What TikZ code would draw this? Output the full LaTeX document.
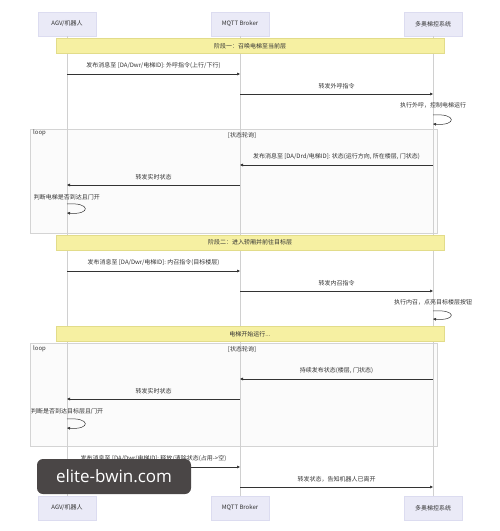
\documentclass[tikz,border=0pt]{standalone}
\usepackage{fontspec}
\usetikzlibrary{arrows.meta,positioning}
\newfontfamily\cjk{Noto Sans CJK SC}
\newfontfamily\wmfont{Open Sans}

\definecolor{actorfill}{HTML}{EAEAF7}
\definecolor{actordraw}{HTML}{DCDCF0}
\definecolor{notefill}{HTML}{F6F0A2}
\definecolor{notedraw}{HTML}{E2DC8A}
\definecolor{txt}{HTML}{333333}
\definecolor{lifegray}{HTML}{D0D0D0}
\definecolor{loopgray}{HTML}{D4D4D4}
\definecolor{wmfill}{HTML}{4A4646}

\tikzset{
  lbl/.style={font=\cjk\fontsize{6}{7}\selectfont, text=txt, inner sep=1pt},
  actor/.style={lbl, draw=actordraw, fill=actorfill, minimum width=58pt, minimum height=24pt},
  note/.style={lbl, draw=notedraw, fill=notefill, minimum width=388pt, minimum height=15pt},
  life/.style={draw=lifegray, line width=0.5pt},
  msg/.style={draw=txt, line width=0.5pt, -{Triangle[length=3pt,width=2.6pt]}},
  loopbox/.style={draw=loopgray, fill=black!1.5, line width=0.5pt},
}

\begin{document}
\begin{tikzpicture}[x=1pt,y=-1pt]
\useasboundingbox (0,0) rectangle (500,531);

% loop frames (behind everything)
\draw[loopbox] (30,129) rectangle (437,233);
\draw[loopbox] (30,343) rectangle (437,446);

% participants
\node[actor] (agv) at (67,24) {AGV/机器人};
\node[actor] (broker) at (240,24) {MQTT Broker};
\node[actor] (elev) at (433,24) {多奥梯控系统};
\node[actor] (agvb) at (67,508) {AGV/机器人};
\node[actor] (brokerb) at (240,508) {MQTT Broker};
\node[actor] (elevb) at (433,508) {多奥梯控系统};

\draw[life] (agv) -- (agvb);
\draw[life] (broker) -- (brokerb);
\draw[life] (elev) -- (elevb);

% phase 1
\node[note] (ph1) at (250,46) {阶段一：召唤电梯至当前层};

\path (agv |- 0,74) coordinate (m1a) (broker |- 0,74) coordinate (m1b);
\draw[msg] (m1a) -- node[lbl, above=4pt] {发布消息至 [DA/Dwr/电梯ID]: 外呼指令(上行/下行)} (m1b);

\path (broker |- 0,94) coordinate (m2a) (elev |- 0,94) coordinate (m2b);
\draw[msg] (m2a) -- node[lbl, above=4pt] {转发外呼指令} (m2b);

\node[lbl] (s1t) at (elev |- 0,105) {执行外呼，控制电梯运行};
\path (elev |- 0,115) coordinate (s1a) (elev |- 0,124) coordinate (s1b);
\draw[msg] (s1a) .. controls +(24,-2) and +(24,2) .. (s1b);

% first polling loop
\node[lbl, anchor=west] (lp1) at (32,133) {loop};
\node[lbl] (lp1c) at (242,135) {[状态轮询]};

\path (elev |- 0,165) coordinate (m3a) (broker |- 0,165) coordinate (m3b);
\draw[msg] (m3a) -- node[lbl, above=4pt] {发布消息至 [DA/Drd/电梯ID]: 状态(运行方向, 所在楼层, 门状态)} (m3b);

\path (broker |- 0,185) coordinate (m4a) (agv |- 0,185) coordinate (m4b);
\draw[msg] (m4a) -- node[lbl, above=4pt] {转发实时状态} (m4b);

\node[lbl] (s2t) at (agv |- 0,197) {判断电梯是否到达且门开};
\path (agv |- 0,204) coordinate (s2a) (agv |- 0,213) coordinate (s2b);
\draw[msg] (s2a) .. controls +(24,-2) and +(24,2) .. (s2b);

% phase 2
\node[note] (ph2) at (250,242.5) {阶段二：进入轿厢并前往目标层};

\path (agv |- 0,271) coordinate (m5a) (broker |- 0,271) coordinate (m5b);
\draw[msg] (m5a) -- node[lbl, above=4pt] {发布消息至 [DA/Dwr/电梯ID]: 内召指令(目标楼层)} (m5b);

\path (broker |- 0,291) coordinate (m6a) (elev |- 0,291) coordinate (m6b);
\draw[msg] (m6a) -- node[lbl, above=4pt] {转发内召指令} (m6b);

\node[lbl] (s3t) at (elev |- 0,302) {执行内召，点亮目标楼层按钮};
\path (elev |- 0,311) coordinate (s3a) (elev |- 0,319) coordinate (s3b);
\draw[msg] (s3a) .. controls +(24,-2) and +(24,2) .. (s3b);

\node[note] (ph3) at (250,334) {电梯开始运行...};

% second polling loop
\node[lbl, anchor=west] (lp2) at (32,349) {loop};
\node[lbl] (lp2c) at (242,349) {[状态轮询]};

\path (elev |- 0,379) coordinate (m7a) (broker |- 0,379) coordinate (m7b);
\draw[msg] (m7a) -- node[lbl, above=4pt] {持续发布状态(楼层, 门状态)} (m7b);

\path (broker |- 0,399) coordinate (m8a) (agv |- 0,399) coordinate (m8b);
\draw[msg] (m8a) -- node[lbl, above=4pt] {转发实时状态} (m8b);

\node[lbl] (s4t) at (agv |- 0,411) {判断是否到达目标层且门开};
\path (agv |- 0,419) coordinate (s4a) (agv |- 0,428) coordinate (s4b);
\draw[msg] (s4a) .. controls +(24,-2) and +(24,2) .. (s4b);

% leaving
\path (agv |- 0,467) coordinate (m9a) (broker |- 0,467) coordinate (m9b);
\draw[msg] (m9a) -- node[lbl, above=4pt] {发布消息至 [DA/Dwr/电梯ID]: 释放/清除状态(占用->空)} (m9b);

\path (broker |- 0,487) coordinate (m10a) (elev |- 0,487) coordinate (m10b);
\draw[msg] (m10a) -- node[lbl, above=4pt] {转发状态，告知机器人已离开} (m10b);

% watermark
\node[fill=wmfill, rounded corners=6pt, minimum width=154pt, minimum height=35pt,
      text=white, font=\wmfont\fontsize{17}{19}\selectfont] (wm) at (114,476.5) {elite-bwin.com};
\end{tikzpicture}
\end{document}
